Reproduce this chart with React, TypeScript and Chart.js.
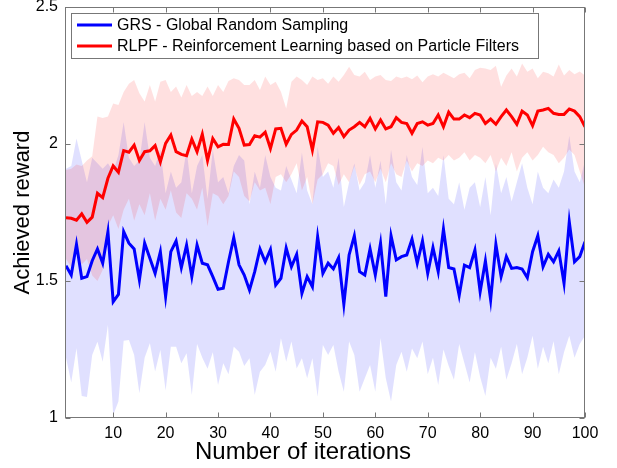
import React, { useEffect, useRef } from 'react';
import { Chart, registerables } from 'chart.js';

Chart.register(...registerables);

const iterations: number[] = Array.from({ length: 100 }, (_, i) => i + 1);

const grsMean: number[] = [
  1.556, 1.522, 1.634, 1.51, 1.516, 1.574, 1.617, 1.565, 1.68, 1.424,
  1.451, 1.68, 1.638, 1.617, 1.504, 1.638, 1.583, 1.528, 1.607, 1.443,
  1.607, 1.646, 1.549, 1.631, 1.516, 1.631, 1.565, 1.559, 1.516, 1.47,
  1.474, 1.57, 1.658, 1.559, 1.522, 1.467, 1.534, 1.617, 1.57, 1.615,
  1.485, 1.51, 1.62, 1.552, 1.597, 1.455, 1.516, 1.479, 1.662, 1.528,
  1.565, 1.544, 1.585, 1.415, 1.595, 1.665, 1.534, 1.522, 1.617, 1.522,
  1.638, 1.443, 1.665, 1.577, 1.589, 1.595, 1.653, 1.565, 1.646, 1.528,
  1.622, 1.534, 1.689, 1.549, 1.544, 1.447, 1.558, 1.549, 1.613, 1.461,
  1.573, 1.431, 1.634, 1.516, 1.589, 1.546, 1.549, 1.544, 1.512, 1.607,
  1.665, 1.552, 1.597, 1.57, 1.61, 1.492, 1.716, 1.57, 1.589, 1.643,
];

const grsUpper: number[] = [
  1.91, 1.92, 2.02, 1.94, 1.86, 1.95, 1.93, 1.91, 1.93, 1.9,
  1.96, 2.08, 1.95, 1.92, 1.94, 2.08, 1.95, 1.92, 1.98, 1.82,
  1.9, 1.84, 1.86, 1.98, 1.82, 1.92, 1.96, 1.8, 1.98, 1.86,
  1.88, 1.82, 1.92, 1.96, 1.94, 1.78, 1.9, 1.84, 1.96, 1.88,
  1.84, 1.83, 1.92, 1.87, 1.82, 1.97, 1.83, 1.78, 1.99, 1.88,
  1.9, 1.84, 1.95, 1.77, 1.86, 1.93, 1.83, 1.86, 1.96, 1.84,
  1.94, 1.78, 1.98, 1.86, 1.83, 1.96, 1.88, 1.85, 1.99, 1.82,
  1.84, 1.81, 1.96, 1.8, 1.78, 1.86, 1.76, 1.84, 1.86, 1.77,
  1.88, 1.74, 1.93, 1.82, 1.88, 1.79, 1.86, 1.93, 1.84, 1.78,
  1.9, 1.84, 1.82, 1.87, 1.84, 1.9, 2.03, 1.9, 1.86, 1.94,
];

const grsLower: number[] = [
  1.22, 1.13, 1.255, 1.08, 1.077, 1.23, 1.278, 1.205, 1.339, 1.01,
  1.06, 1.282, 1.285, 1.23, 1.09, 1.22, 1.273, 1.17, 1.248, 1.1,
  1.26, 1.26, 1.2, 1.236, 1.084, 1.27, 1.22, 1.18, 1.24, 1.12,
  1.2, 1.16, 1.26, 1.242, 1.19, 1.218, 1.084, 1.169, 1.193, 1.242,
  1.169, 1.291, 1.205, 1.279, 1.181, 1.218, 1.145, 1.218, 1.078, 1.266,
  1.23, 1.266, 1.169, 1.096, 1.279, 1.23, 1.096, 1.145, 1.193, 1.096,
  1.291, 1.145, 1.06, 1.193, 1.242, 1.169, 1.254, 1.218, 1.279, 1.16,
  1.22, 1.12, 1.25, 1.19, 1.14, 1.27, 1.2, 1.13, 1.24, 1.15,
  1.08, 1.22, 1.18, 1.26, 1.14, 1.2, 1.27, 1.16, 1.22, 1.3,
  1.18, 1.26, 1.2, 1.28, 1.16, 1.24, 1.3, 1.22, 1.27, 1.3,
];

const rlpfMean: number[] = [
  1.731, 1.729, 1.722, 1.745, 1.714, 1.733, 1.82, 1.804, 1.875, 1.92,
  1.897, 1.976, 1.97, 1.996, 1.94, 1.972, 1.975, 1.994, 1.935, 2.002,
  2.033, 1.972, 1.962, 1.957, 2.018, 1.972, 2.036, 1.94, 2.02, 1.99,
  1.999, 1.998, 2.091, 2.057, 1.996, 1.998, 2.03, 2.025, 2.043, 1.984,
  2.055, 2.057, 1.999, 2.035, 2.051, 2.084, 2.063, 1.978, 2.081, 2.079,
  2.069, 2.039, 2.06, 2.027, 2.051, 2.063, 2.079, 2.063, 2.094, 2.055,
  2.088, 2.055, 2.063, 2.096, 2.079, 2.075, 2.039, 2.075, 2.081, 2.069,
  2.075, 2.106, 2.063, 2.116, 2.091, 2.091, 2.106, 2.096, 2.112, 2.106,
  2.075, 2.091, 2.072, 2.1, 2.124, 2.1, 2.072, 2.12, 2.106, 2.067,
  2.12, 2.124, 2.13, 2.112, 2.108, 2.108, 2.128, 2.12, 2.1, 2.063,
];

const rlpfUpper: number[] = [
  1.905, 1.91, 1.925, 1.92, 1.94, 1.955, 2.1, 2.095, 2.1, 2.148,
  2.142, 2.19, 2.22, 2.234, 2.185, 2.155, 2.215, 2.155, 2.227, 2.234,
  2.19, 2.21, 2.17, 2.215, 2.175, 2.19, 2.175, 2.21, 2.175, 2.215,
  2.19, 2.23, 2.24, 2.234, 2.215, 2.215, 2.234, 2.197, 2.246, 2.215,
  2.227, 2.191, 2.13, 2.227, 2.246, 2.234, 2.215, 2.246, 2.234, 2.24,
  2.22, 2.246, 2.227, 2.252, 2.282, 2.252, 2.246, 2.264, 2.234, 2.246,
  2.252, 2.234, 2.23, 2.246, 2.24, 2.246, 2.236, 2.25, 2.225, 2.246,
  2.255, 2.246, 2.26, 2.25, 2.24, 2.255, 2.26, 2.24, 2.27, 2.278,
  2.276, 2.27, 2.286, 2.209, 2.25, 2.276, 2.246, 2.294, 2.264, 2.276,
  2.24, 2.264, 2.258, 2.246, 2.29, 2.25, 2.27, 2.255, 2.265, 2.25,
];

const rlpfLower: number[] = [
  1.58, 1.55, 1.6, 1.56, 1.58, 1.52, 1.5, 1.54, 1.7, 1.74,
  1.69, 1.76, 1.8, 1.72, 1.78, 1.74, 1.82, 1.72, 1.8, 1.76,
  1.83, 1.75, 1.73, 1.82, 1.8, 1.76, 1.84, 1.7, 1.82, 1.81,
  1.78, 1.81, 1.9, 1.88, 1.81, 1.79, 1.86, 1.83, 1.84, 1.78,
  1.88, 1.89, 1.86, 1.89, 1.93, 1.83, 1.88, 1.78, 1.87, 1.89,
  1.93, 1.92, 1.85, 1.89, 1.86, 1.92, 1.85, 1.89, 1.9, 1.86,
  1.91, 1.86, 1.93, 1.89, 1.88, 1.94, 1.9, 1.93, 1.92, 1.94,
  1.93, 1.95, 1.94, 1.96, 1.94, 1.95, 1.97, 1.94, 1.96, 1.95,
  1.93, 1.96, 1.9, 1.95, 1.92, 1.97, 1.9, 1.95, 1.97, 1.94,
  1.96, 1.99, 1.97, 1.96, 1.93, 1.95, 1.98, 1.96, 1.9, 1.84,
];

const xTicks: number[] = [10, 20, 30, 40, 50, 60, 70, 80, 90, 100];
const yTicks: number[] = [1, 1.5, 2, 2.5];
const yTickLabels: string[] = ['1', '1.5', '2', '2.5'];
const seriesNames: string[] = [
  'GRS - Global Random Sampling',
  'RLPF - Reinforcement Learning based on Particle Filters',
];
const xTitle = 'Number of iterations';
const yTitle = 'Achieved reward';

const FONT = "'Liberation Sans', Arial, sans-serif";

export default function App() {
  const ref = useRef<HTMLCanvasElement>(null);

  useEffect(() => {
    document.body.style.margin = '0';
    const canvas = ref.current!;
    const pts = (arr: number[]) => iterations.map((x, i) => ({ x, y: arr[i] }));

    const framePlugin = {
      id: 'matlabFrame',
      afterDatasetsDraw(chart: any) {
        const { ctx, chartArea: a, scales } = chart;
        ctx.save();
        const L = Math.round(a.left) - 0.5;
        const R = Math.round(a.right) - 0.5;
        const T = Math.round(a.top) + 0.5;
        const B = Math.round(a.bottom) - 0.5;
        ctx.strokeStyle = '#777777';
        ctx.lineWidth = 1;
        ctx.strokeRect(L, T, R - L, B - T);
        ctx.beginPath();
        for (const v of xTicks) {
          const px = Math.round(scales.x.getPixelForValue(v)) + 0.5;
          ctx.moveTo(px, B);
          ctx.lineTo(px, B - 5);
          ctx.moveTo(px, T);
          ctx.lineTo(px, T + 5);
        }
        for (const v of yTicks) {
          const py = Math.round(scales.y.getPixelForValue(v)) + 0.5;
          ctx.moveTo(L, py);
          ctx.lineTo(L + 5, py);
          ctx.moveTo(R, py);
          ctx.lineTo(R - 5, py);
        }
        ctx.stroke();

        // legend
        const lx = 71.5, ly = 13.5, lw = 467, lh = 45;
        ctx.fillStyle = '#ffffff';
        ctx.fillRect(lx, ly, lw, lh);
        ctx.strokeStyle = '#777777';
        ctx.lineWidth = 1;
        ctx.strokeRect(lx, ly, lw, lh);
        const rows = [
          { y: 25, color: '#0000ff', text: seriesNames[0] },
          { y: 46, color: '#ff0000', text: seriesNames[1] },
        ];
        ctx.font = `16px ${FONT}`;
        ctx.textBaseline = 'middle';
        ctx.textAlign = 'left';
        for (const r of rows) {
          ctx.strokeStyle = r.color;
          ctx.lineWidth = 3;
          ctx.beginPath();
          ctx.moveTo(77, r.y);
          ctx.lineTo(112, r.y);
          ctx.stroke();
          ctx.fillStyle = '#000000';
          ctx.fillText(r.text, 117, r.y + 1);
        }

        // axis titles
        ctx.fillStyle = '#000000';
        ctx.textAlign = 'center';
        ctx.textBaseline = 'middle';
        ctx.font = `24px ${FONT}`;
        ctx.fillText(xTitle, 303, 452);
        ctx.font = `22px ${FONT}`;
        ctx.save();
        ctx.translate(23, (a.top + a.bottom) / 2);
        ctx.rotate(-Math.PI / 2);
        ctx.fillText(yTitle, 0, 0);
        ctx.restore();
        ctx.restore();
      },
    };

    const chart = new Chart(canvas, {
      type: 'line',
      data: {
        datasets: [
          {
            label: seriesNames[1],
            data: pts(rlpfMean),
            borderColor: '#ff0000',
            borderWidth: 3,
            pointRadius: 0,
            fill: false,
            tension: 0,
          },
          {
            label: seriesNames[0],
            data: pts(grsMean),
            borderColor: '#0000ff',
            borderWidth: 3,
            pointRadius: 0,
            fill: false,
            tension: 0,
          },
          {
            label: 'rlpf upper',
            data: pts(rlpfUpper),
            borderWidth: 0,
            borderColor: 'rgba(0,0,0,0)',
            pointRadius: 0,
            backgroundColor: 'rgba(255,0,0,0.12)',
            fill: '+1',
            tension: 0,
          },
          {
            label: 'rlpf lower',
            data: pts(rlpfLower),
            borderWidth: 0,
            borderColor: 'rgba(0,0,0,0)',
            pointRadius: 0,
            fill: false,
            tension: 0,
          },
          {
            label: 'grs upper',
            data: pts(grsUpper),
            borderWidth: 0,
            borderColor: 'rgba(0,0,0,0)',
            pointRadius: 0,
            backgroundColor: 'rgba(0,0,255,0.12)',
            fill: '+1',
            tension: 0,
          },
          {
            label: 'grs lower',
            data: pts(grsLower),
            borderWidth: 0,
            borderColor: 'rgba(0,0,0,0)',
            pointRadius: 0,
            fill: false,
            tension: 0,
          },
        ],
      },
      options: {
        responsive: false,
        devicePixelRatio: 1,
        animation: false,
        layout: { padding: { top: 7, right: 32, left: 0, bottom: 0 } },
        plugins: {
          legend: { display: false },
          tooltip: { enabled: false },
          filler: { drawTime: 'beforeDatasetsDraw' },
        },
        scales: {
          x: {
            type: 'linear',
            min: 1,
            max: 100,
            afterBuildTicks: (s: any) => {
              s.ticks = xTicks.map((v) => ({ value: v }));
            },
            afterFit: (s: any) => {
              s.height = 50;
              s.paddingLeft = 0;
              s.paddingRight = 0;
            },
            ticks: {
              font: { size: 16, family: FONT },
              color: '#000000',
              padding: 6,
              maxRotation: 0,
              autoSkip: false,
            },
            grid: { display: false, drawTicks: false },
            border: { display: false },
          },
          y: {
            type: 'linear',
            min: 1,
            max: 2.5,
            afterBuildTicks: (s: any) => {
              s.ticks = yTicks.map((v) => ({ value: v }));
            },
            afterFit: (s: any) => {
              s.width = 66;
              s.paddingTop = 0;
              s.paddingBottom = 0;
            },
            ticks: {
              font: { size: 16, family: FONT },
              color: '#000000',
              padding: 8,
              autoSkip: false,
              callback: (v: any) => {
                const i = yTicks.indexOf(Number(v));
                return i >= 0 ? yTickLabels[i] : '';
              },
            },
            grid: { display: false, drawTicks: false },
            border: { display: false },
          },
        },
      },
      plugins: [framePlugin],
    });

    return () => chart.destroy();
  }, []);

  return (
    <div style={{ width: 617, height: 468, background: '#ffffff' }}>
      <canvas ref={ref} width={617} height={468} style={{ display: 'block' }} />
    </div>
  );
}
